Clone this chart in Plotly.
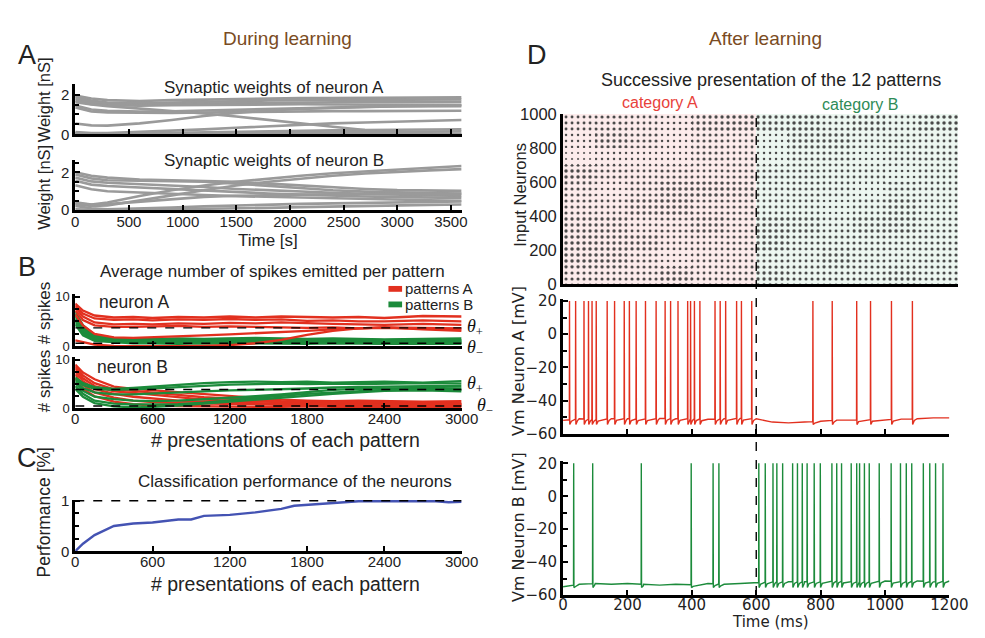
import plotly.graph_objects as go
import numpy as np

W, H = 985, 638

# ---------------- DATA ----------------
# Panel A: synaptic weights (nS) vs time (s)
time_s = [0, 150, 300, 600, 900, 1200, 1500, 1800, 2100, 2400, 2700, 3000, 3300, 3600]
weights_A = [
    [1.95, 1.80, 1.72, 1.68, 1.72, 1.75, 1.78, 1.80, 1.82, 1.83, 1.84, 1.85, 1.85, 1.86],
    [1.88, 1.70, 1.60, 1.56, 1.60, 1.64, 1.67, 1.70, 1.72, 1.73, 1.74, 1.75, 1.75, 1.76],
    [1.80, 1.62, 1.54, 1.50, 1.53, 1.55, 1.57, 1.60, 1.62, 1.62, 1.63, 1.63, 1.64, 1.64],
    [1.70, 1.52, 1.46, 1.44, 1.46, 1.48, 1.50, 1.50, 1.51, 1.50, 1.50, 1.49, 1.49, 1.48],
    [1.62, 1.50, 1.42, 1.30, 1.18, 1.05, 0.90, 0.72, 0.55, 0.38, 0.22, 0.10, 0.04, 0.02],
    [1.45, 1.25, 1.18, 1.15, 1.16, 1.20, 1.24, 1.28, 1.32, 1.35, 1.38, 1.40, 1.41, 1.42],
    [1.35, 1.15, 1.10, 1.08, 1.08, 1.10, 1.12, 1.15, 1.16, 1.17, 1.17, 1.18, 1.18, 1.19],
    [0.55, 0.45, 0.44, 0.55, 0.72, 0.92, 1.08, 1.20, 1.28, 1.34, 1.38, 1.42, 1.44, 1.46],
    [0.12, 0.06, 0.07, 0.12, 0.18, 0.25, 0.33, 0.41, 0.48, 0.55, 0.60, 0.65, 0.68, 0.72],
    [0.05, 0.03, 0.03, 0.05, 0.08, 0.10, 0.12, 0.15, 0.18, 0.20, 0.22, 0.24, 0.25, 0.26],
    [0.03, 0.01, 0.01, 0.02, 0.03, 0.05, 0.06, 0.08, 0.10, 0.11, 0.12, 0.13, 0.14, 0.15],
    [0.02, 0.01, 0.00, 0.00, 0.00, 0.00, 0.00, 0.00, 0.00, 0.00, 0.00, 0.00, 0.00, 0.00],
]
weights_B = [
    [2.00, 1.82, 1.72, 1.62, 1.58, 1.55, 1.50, 1.40, 1.30, 1.20, 1.12, 1.06, 1.03, 1.02],
    [1.88, 1.68, 1.58, 1.55, 1.55, 1.50, 1.40, 1.28, 1.15, 1.05, 0.98, 0.93, 0.90, 0.88],
    [1.72, 1.52, 1.45, 1.38, 1.30, 1.22, 1.12, 1.04, 0.98, 0.92, 0.86, 0.82, 0.78, 0.75],
    [1.55, 1.35, 1.28, 1.20, 1.10, 1.02, 0.95, 0.88, 0.82, 0.76, 0.72, 0.69, 0.67, 0.65],
    [1.32, 1.10, 1.00, 0.92, 0.86, 0.80, 0.74, 0.70, 0.65, 0.60, 0.57, 0.55, 0.52, 0.50],
    [0.42, 0.30, 0.40, 0.75, 1.05, 1.30, 1.50, 1.68, 1.82, 1.95, 2.05, 2.15, 2.25, 2.33],
    [0.32, 0.22, 0.25, 0.50, 0.78, 1.05, 1.30, 1.50, 1.68, 1.82, 1.94, 2.03, 2.10, 2.17],
    [0.22, 0.10, 0.05, 0.08, 0.14, 0.20, 0.25, 0.30, 0.33, 0.36, 0.39, 0.42, 0.44, 0.46],
    [0.05, 0.02, 0.00, 0.02, 0.04, 0.06, 0.09, 0.12, 0.16, 0.20, 0.23, 0.26, 0.28, 0.30],
    [0.35, 0.30, 0.32, 0.45, 0.58, 0.70, 0.76, 0.80, 0.82, 0.84, 0.85, 0.86, 0.86, 0.87],
]

# Panel B: average number of spikes per pattern vs presentations
presentations = [0, 60, 150, 300, 450, 600, 800, 1000, 1200, 1400, 1600, 1800, 2000, 2200, 2400, 2700, 3000]
nA_patternsA = [
    [8.6, 7.2, 6.2, 5.8, 5.9, 5.7, 5.9, 5.8, 6.0, 5.8, 6.0, 5.9, 5.8, 5.9, 5.7, 6.1, 6.0],
    [8.2, 6.6, 5.6, 5.3, 5.4, 5.2, 5.4, 5.3, 5.5, 5.3, 5.4, 5.1, 5.2, 5.0, 5.0, 5.2, 5.0],
    [7.8, 6.0, 4.8, 4.4, 4.5, 4.4, 4.6, 4.5, 4.7, 4.6, 4.8, 4.6, 4.5, 4.4, 4.3, 4.5, 4.3],
    [7.2, 5.3, 4.2, 3.9, 3.9, 4.0, 4.1, 3.9, 4.0, 3.9, 3.8, 3.7, 3.8, 3.6, 3.7, 3.5, 3.4],
    [6.4, 4.2, 2.5, 1.8, 1.7, 1.8, 2.0, 2.2, 2.4, 2.6, 2.8, 3.1, 3.4, 3.6, 3.8, 3.4, 3.1],
    [1.2, 0.8, 0.3, 0.05, 0.0, 0.0, 0.0, 0.05, 0.2, 0.6, 1.3, 2.3, 3.1, 3.6, 3.8, 3.7, 3.6],
]
nA_patternsB = [
    [7.0, 4.2, 2.3, 1.7, 1.6, 1.5, 1.6, 1.5, 1.6, 1.7, 1.6, 1.5, 1.6, 1.5, 1.4, 1.5, 1.6],
    [6.5, 3.8, 2.0, 1.5, 1.3, 1.4, 1.3, 1.4, 1.5, 1.3, 1.4, 1.3, 1.2, 1.3, 1.2, 1.3, 1.2],
    [6.0, 3.4, 1.8, 1.3, 1.2, 1.1, 1.2, 1.1, 1.2, 1.3, 1.1, 1.2, 1.1, 1.0, 1.1, 1.0, 1.1],
    [5.5, 3.0, 1.5, 1.1, 1.0, 1.0, 0.9, 1.0, 1.0, 0.9, 1.0, 0.9, 0.9, 0.8, 0.9, 0.8, 0.9],
    [5.0, 2.6, 1.3, 0.9, 0.8, 0.8, 0.8, 0.7, 0.8, 0.8, 0.7, 0.8, 0.7, 0.7, 0.6, 0.7, 0.7],
    [4.4, 2.2, 1.1, 0.8, 0.6, 0.6, 0.5, 0.6, 0.5, 0.6, 0.5, 0.5, 0.6, 0.5, 0.5, 0.5, 0.5],
]
nB_patternsA = [
    [9.0, 7.4, 6.0, 4.5, 4.0, 3.7, 3.3, 2.9, 2.5, 2.1, 1.8, 1.6, 1.5, 1.6, 1.5, 1.4, 1.5],
    [8.6, 6.8, 5.2, 3.9, 3.6, 3.3, 2.8, 2.3, 2.0, 1.7, 1.5, 1.4, 1.3, 1.2, 1.3, 1.2, 1.1],
    [8.2, 6.2, 4.6, 3.5, 3.2, 2.8, 2.2, 1.8, 1.6, 1.4, 1.3, 1.2, 1.1, 1.0, 1.1, 1.0, 0.9],
    [7.6, 5.6, 4.0, 3.0, 2.4, 2.0, 1.6, 1.4, 1.2, 1.1, 1.0, 0.9, 0.9, 0.8, 0.9, 0.8, 0.8],
    [7.0, 4.8, 3.3, 2.2, 1.6, 1.3, 1.1, 1.0, 0.9, 0.8, 0.7, 0.7, 0.6, 0.7, 0.6, 0.6, 0.6],
    [6.2, 4.0, 2.5, 1.4, 0.9, 0.6, 0.5, 0.4, 0.4, 0.3, 0.3, 0.4, 0.3, 0.3, 0.4, 0.3, 0.3],
]
nB_patternsB = [
    [6.4, 5.2, 4.4, 4.0, 4.2, 4.5, 4.8, 5.2, 5.4, 5.5, 5.4, 5.5, 5.3, 5.4, 5.5, 5.3, 5.6],
    [6.0, 4.8, 4.0, 3.8, 3.9, 4.1, 4.4, 4.7, 4.9, 5.0, 5.1, 5.0, 5.1, 5.0, 5.1, 5.2, 5.1],
    [5.6, 4.2, 3.3, 2.9, 2.9, 3.1, 3.3, 3.5, 3.7, 3.8, 4.0, 4.1, 4.3, 4.4, 4.5, 4.6, 4.6],
    [5.2, 3.6, 2.4, 1.9, 1.6, 1.5, 1.6, 1.9, 2.1, 2.5, 2.9, 3.4, 3.8, 4.0, 4.1, 4.2, 4.1],
    [4.6, 3.0, 1.6, 1.0, 0.8, 0.8, 0.9, 1.2, 1.7, 2.1, 2.6, 3.0, 3.3, 3.6, 3.8, 3.9, 3.8],
    [4.0, 2.4, 1.1, 0.4, 0.2, 0.3, 0.6, 1.0, 1.5, 1.9, 2.3, 2.6, 3.0, 3.3, 3.6, 3.7, 3.5],
]
theta_plus_A, theta_minus_A = 3.7, 0.6
theta_plus_B, theta_minus_B = 3.9, 0.5

# Panel C: classification performance
perf_x = [0, 60, 150, 300, 450, 600, 800, 900, 1000, 1200, 1400, 1600, 1700, 1800, 2000, 2200, 2400, 2600, 2800, 2900, 3000]
perf_y = [0, 0.15, 0.32, 0.50, 0.55, 0.57, 0.63, 0.63, 0.70, 0.72, 0.77, 0.84, 0.90, 0.92, 0.95, 0.99, 0.99, 0.99, 0.99, 0.97, 0.98]

# Panel D: raster density (rows: neurons 900-1000 down to 0-100; cols: 100 ms bins)
raster_bins = [0, 100, 200, 300, 400, 500, 600, 700, 800, 900, 1000, 1100, 1227]
raster_density = [
    [0.5, 0.6, 0.5, 0.4, 0.7, 0.8, 0.7, 0.8, 0.6, 0.7, 0.5, 0.8],
    [0.3, 0.7, 0.6, 0.3, 0.6, 0.5, 0.3, 0.7, 0.7, 0.5, 0.6, 0.5],
    [0.15, 0.3, 0.3, 0.3, 0.6, 0.5, 0.3, 0.6, 0.6, 0.4, 0.5, 0.6],
    [0.8, 0.6, 0.5, 0.6, 0.5, 0.6, 0.6, 0.6, 0.5, 0.5, 0.4, 0.5],
    [0.6, 0.4, 0.6, 0.8, 0.8, 0.7, 0.5, 0.6, 0.5, 0.3, 0.6, 0.5],
    [0.6, 0.5, 0.7, 0.8, 0.6, 0.6, 0.5, 0.5, 0.4, 0.5, 0.7, 0.5],
    [0.7, 0.7, 0.5, 0.6, 0.7, 0.6, 0.8, 0.7, 0.5, 0.7, 0.8, 0.6],
    [0.8, 0.7, 0.7, 0.5, 0.5, 0.6, 0.8, 0.6, 0.6, 0.6, 0.6, 0.6],
    [0.8, 0.8, 0.6, 0.4, 0.5, 0.5, 0.6, 0.5, 0.7, 0.6, 0.5, 0.6],
    [0.6, 0.6, 0.6, 0.8, 0.5, 0.6, 0.7, 0.6, 0.6, 0.6, 0.7, 0.6],
]
neuron_bins = [900, 800, 700, 600, 500, 400, 300, 200, 100, 0]

# Membrane potential: spike times (ms) and sub-threshold baseline (mV)
spikes_A = [20, 39, 65, 79, 90, 103, 137, 160, 190, 206, 227, 256, 289, 317, 334, 357,
            387, 396, 408, 425, 472, 488, 505, 539, 554, 586,
            776, 836, 912, 955, 1020, 1085]
spikes_B = [33, 92, 243, 398, 466, 484,
            608, 628, 652, 664, 682, 713, 728, 743, 758, 780, 799, 835, 850, 865,
            895, 912, 921, 936, 951, 982, 1019, 1048, 1066, 1083, 1119, 1139, 1157, 1180]
base_t = [0, 50, 100, 150, 200, 250, 300, 350, 400, 450, 500, 550, 600, 650, 700, 750,
          800, 850, 900, 950, 1000, 1050, 1100, 1150, 1200]
base_A = [-52, -51, -51.5, -51, -51, -51.2, -50.8, -51, -51, -51.3, -51, -50.8, -51,
          -53, -53.5, -53, -52.5, -51.8, -51.8, -51.5, -51.5, -51.2, -51, -50.5, -50.5]
base_B = [-55, -53.5, -53, -53.5, -53, -53.5, -54, -53.5, -53.8, -53, -53.5, -53, -52.5,
          -52, -52, -52, -52, -51.5, -52, -52, -51.5, -52, -51.5, -52, -51.5]

# ---------------- STYLE ----------------
SANS = "Liberation Sans, Arial, Helvetica, sans-serif"
DJV = "DejaVu Sans, sans-serif"
SERIF = "Liberation Serif, Times New Roman, serif"
RED = "#E2301F"
GREEN = "#1C8B3B"
GRAY = "#9A9A9A"
BLUE = "#4453B3"
BROWN = "#7A4B22"
PINK_BG = "#FDECEC"
GREEN_BG = "#EDF7F1"


def px(x):
    return x / W


def py(y):
    return 1 - y / H


def dom_x(l, r):
    return [px(l), px(r)]


def dom_y(top, bottom):
    return [py(bottom), py(top)]


fig = go.Figure()


def line(x, y, color, width, ax):
    fig.add_trace(go.Scatter(x=x, y=y, mode="lines", line=dict(color=color, width=width),
                             xaxis="x" + ax, yaxis="y" + ax, showlegend=False,
                             hoverinfo="skip"))


for w in weights_A:
    line(time_s, w, GRAY, 2.6, "")
for w in weights_B:
    line(time_s, w, GRAY, 2.6, "2")

for s in nA_patternsB:
    line(presentations, s, GREEN, 2.3, "3")
for s in nA_patternsA:
    line(presentations, s, RED, 2.3, "3")
for s in nB_patternsA:
    line(presentations, s, RED, 2.3, "4")
for s in nB_patternsB:
    line(presentations, s, GREEN, 2.3, "4")

line(perf_x, perf_y, BLUE, 2.4, "5")

# raster as dot-pattern cells whose dot size follows the local spike density
bx, bw, bb, sol, bgc = [], [], [], [], []
for i, nb in enumerate(neuron_bins):
    for j in range(len(raster_bins) - 1):
        t0, t1 = raster_bins[j], raster_bins[j + 1]
        bx.append((t0 + t1) / 2)
        bw.append(t1 - t0)
        bb.append(nb)
        sol.append(0.05 + 0.26 * raster_density[i][j])
        bgc.append(PINK_BG if t0 < 600 else GREEN_BG)
fig.add_trace(go.Bar(x=bx, y=[100] * len(bx), base=bb, width=bw, xaxis="x6", yaxis="y6",
                     marker=dict(color=bgc, line=dict(width=0),
                                 pattern=dict(shape=".", fgcolor="#000000", bgcolor=bgc,
                                              fgopacity=1, size=6, solidity=sol,
                                              fillmode="overlay")),
                     showlegend=False, hoverinfo="skip"))


def vm_trace(spikes, bvals, reset):
    bt = np.array(base_t, float)
    bv = np.array(bvals, float)
    pts = {float(t): float(v) for t, v in zip(base_t, bvals)}
    for ts in spikes:
        for k in list(pts.keys()):
            if ts - 0.5 <= k <= ts + 6:
                del pts[k]
    for ts in spikes:
        pts[ts - 0.5] = float(np.interp(ts - 0.5, bt, bv))
        pts[float(ts)] = 20.0
        pts[ts + 0.8] = reset
        pts[ts + 6.0] = float(np.interp(ts + 6, bt, bv)) - 1.0
    ks = sorted(pts.keys())
    return ks, [pts[k] for k in ks]


tA, vA = vm_trace(spikes_A, base_A, -54.5)
tB, vB = vm_trace(spikes_B, base_B, -55.5)
line(tA, vA, RED, 1.4, "7")
line(tB, vB, GREEN, 1.4, "8")

# ---------------- AXES ----------------
tickfont = dict(family=SANS, size=15, color="#222")
smallfont = dict(family=SANS, size=13, color="#222")
djfont = dict(family=DJV, size=15, color="#222")
base_ax = dict(showline=True, linecolor="black", linewidth=3, ticks="inside", ticklen=5,
               tickwidth=2, tickcolor="black", showgrid=False, zeroline=False,
               tickfont=tickfont)


def ax(**kw):
    d = dict(base_ax)
    d.update(kw)
    return d


def minor(dt):
    return dict(ticks="inside", dtick=dt, ticklen=4, tickwidth=2, tickcolor="black", showgrid=False)


lay = dict(
    xaxis=ax(domain=dom_x(72, 468), range=[0, 3600], anchor="y", dtick=500, showticklabels=False),
    yaxis=ax(domain=dom_y(77, 129), range=[0, 2.54], anchor="x", tickvals=[0, 2], minor=minor(0.5)),
    xaxis2=ax(domain=dom_x(72, 468), range=[0, 3600], anchor="y2", dtick=500, ticklabelstandoff=-4),
    yaxis2=ax(domain=dom_y(155, 207), range=[0, 2.67], anchor="x2", tickvals=[0, 2], minor=minor(0.5)),
    xaxis3=ax(domain=dom_x(72, 468), range=[0, 3000], anchor="y3", dtick=600, showticklabels=False),
    yaxis3=ax(domain=dom_y(293, 347), range=[0, 10.6], anchor="x3", tickvals=[0, 10], minor=minor(2.5),
              tickfont=smallfont),
    xaxis4=ax(domain=dom_x(72, 468), range=[0, 3000], anchor="y4", dtick=600, ticklabelstandoff=-5),
    yaxis4=ax(domain=dom_y(358, 411), range=[0, 10.6], anchor="x4", tickvals=[0, 10], minor=minor(2.5),
              tickfont=smallfont),
    xaxis5=ax(domain=dom_x(72, 468), range=[0, 3000], anchor="y5", dtick=600, ticklabelstandoff=-5),
    yaxis5=ax(domain=dom_y(505, 558), range=[0, 1.02], anchor="x5", tickvals=[0, 1], minor=minor(0.25)),
    xaxis6=ax(domain=dom_x(572, 977), range=[0, 1227], anchor="y6", ticks="", showticklabels=False),
    yaxis6=ax(domain=dom_y(108, 283), range=[0, 1000], anchor="x6", dtick=200, ticks="",
              tickfont=dict(family=SANS, size=16.5, color="#222")),
    xaxis7=ax(domain=dom_x(572, 968), range=[0, 1200], anchor="y7", dtick=200, showticklabels=False),
    yaxis7=ax(domain=dom_y(298, 437), range=[-60, 21.5], anchor="x7",
              tickvals=[-60, -40, -20, 0, 20], minor=minor(10), tickfont=djfont),
    xaxis8=ax(domain=dom_x(572, 968), range=[0, 1200], anchor="y8", dtick=200, tickfont=djfont,
              ticklabelstandoff=-6),
    yaxis8=ax(domain=dom_y(465, 603), range=[-60, 21.5], anchor="x8",
              tickvals=[-60, -40, -20, 0, 20], minor=minor(10), tickfont=djfont),
)

shapes = []
dash = dict(color="black", width=1.4, dash="dash")
for axn, thr in (("3", theta_plus_A), ("3", theta_minus_A), ("4", theta_plus_B), ("4", theta_minus_B)):
    shapes.append(dict(type="line", xref="x" + axn, yref="y" + axn, x0=0, x1=3000, y0=thr, y1=thr,
                       line=dash, layer="above"))
shapes.append(dict(type="line", xref="x5", yref="y5", x0=0, x1=3000, y0=1, y1=1, line=dash, layer="above"))
shapes.append(dict(type="line", xref="x7", yref="paper", x0=600, x1=600, y0=py(603), y1=py(108),
                   line=dash, layer="above"))
# legend swatches
shapes.append(dict(type="rect", xref="paper", yref="paper", x0=px(393), x1=px(407), y0=py(291), y1=py(285),
                   fillcolor=RED, line=dict(width=0)))
shapes.append(dict(type="rect", xref="paper", yref="paper", x0=px(393), x1=px(407), y0=py(307), y1=py(301),
                   fillcolor=GREEN, line=dict(width=0)))

ann = []


def text(x, y, s, size=14, color="#222", family=SANS, angle=0, xanchor="center"):
    ann.append(dict(x=px(x), y=py(y), xref="paper", yref="paper", text=s, showarrow=False,
                    font=dict(family=family, size=size, color=color), textangle=angle,
                    xanchor=xanchor, yanchor="middle"))


text(23, 47, "A", 27)
text(23, 265, "B", 27)
text(23, 462, "C", 27)
text(545, 47, "D", 27)
text(290, 30, "During learning", 19, BROWN)
text(780, 30, "After learning", 19, BROWN)
text(276, 81, "Synaptic weights of neuron A", 17)
text(276, 156, "Synaptic weights of neuron B", 17)
text(40, 94, "Weight [nS]", 16.5, angle=-90)
text(40, 184, "Weight [nS]", 16.5, angle=-90)
text(270, 238, "Time [s]", 17)
text(274, 270, "Average number of spikes emitted per pattern", 17)
text(408, 288, "patterns A", 15, xanchor="left")
text(408, 304, "patterns B", 15, xanchor="left")
text(132, 302, "neuron A", 17.5)
text(131, 368, "neuron B", 17.5)
text(40, 313, "# spikes", 17, angle=-90)
text(40, 383, "# spikes", 17, angle=-90)
text(472, 328, "<i>θ</i><sub>+</sub>", 18, "#111", SERIF, xanchor="left")
text(472, 349, "<i>θ</i><sub>−</sub>", 18, "#111", SERIF, xanchor="left")
text(472, 386, "<i>θ</i><sub>+</sub>", 18, "#111", SERIF, xanchor="left")
text(482, 409, "<i>θ</i><sub>−</sub>", 18, "#111", SERIF, xanchor="left")
text(288, 443, "# presentations of each pattern", 19.5)
text(40, 518, "Performance [%]", 17.5, angle=-90)
text(297, 486, "Classification performance of the neurons", 17)
text(288, 592, "# presentations of each pattern", 19.5)
text(785, 73, "Successive presentation of the 12 patterns", 18)
text(671, 96, "category A", 16, "#E8413A")
text(876, 98, "category B", 16, "#2E8B57")
text(527, 191, "Input Neurons", 16.5, angle=-90)
text(527, 362, "Vm Neuron A [mV]", 16, family=DJV, angle=-90)
text(527, 533, "Vm Neuron B [mV]", 16, family=DJV, angle=-90)
text(785, 631, "Time (ms)", 15, family=DJV)

fig.update_layout(width=W, height=H, margin=dict(l=0, r=0, t=0, b=0),
                  paper_bgcolor="white", plot_bgcolor="rgba(0,0,0,0)",
                  barmode="overlay", bargap=0, showlegend=False,
                  shapes=shapes, annotations=ann, **lay)

fig.write_html("out.html")
